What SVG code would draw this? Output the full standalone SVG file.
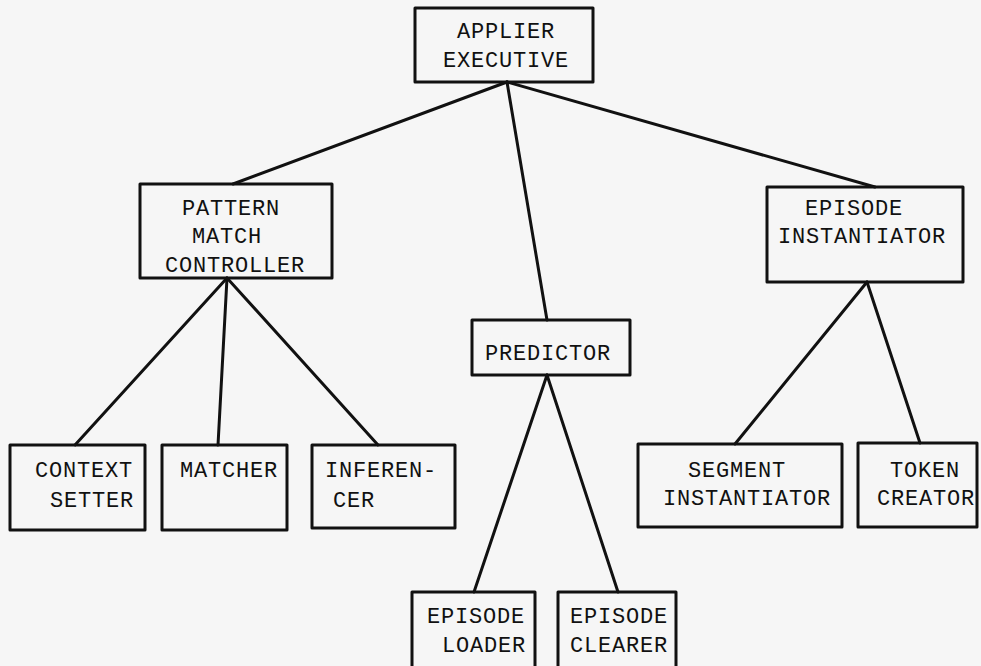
<svg xmlns="http://www.w3.org/2000/svg" width="981" height="666" viewBox="0 0 981 666">
<style>
.box{fill:none;stroke:#111;stroke-width:3;stroke-linejoin:round}
.t{font-family:"Liberation Mono","DejaVu Sans Mono",monospace;font-size:22px;letter-spacing:0.8px;fill:#111}
.c{stroke:#111;stroke-width:3;fill:none;stroke-linecap:round}
</style>
<rect width="981" height="666" fill="#f6f6f6"/>
<g id="connectors">
<line class="c" x1="507" y1="82" x2="233" y2="184"/>
<line class="c" x1="507" y1="82" x2="547" y2="320"/>
<line class="c" x1="507" y1="82" x2="875" y2="187"/>
<line class="c" x1="227" y1="278" x2="75" y2="445"/>
<line class="c" x1="227" y1="278" x2="218" y2="445"/>
<line class="c" x1="227" y1="278" x2="378" y2="445"/>
<line class="c" x1="547" y1="375" x2="474" y2="592"/>
<line class="c" x1="547" y1="375" x2="618" y2="592"/>
<line class="c" x1="867" y1="282" x2="735" y2="444"/>
<line class="c" x1="867" y1="282" x2="920" y2="443"/>
</g>
<g id="applier-executive">
<rect class="box" x="415" y="8" width="178" height="74"/>
<text class="t" x="457" y="38">APPLIER</text>
<text class="t" x="443" y="67">EXECUTIVE</text>
</g>
<g id="pattern-match-controller">
<rect class="box" x="140" y="184" width="192" height="94"/>
<text class="t" x="182" y="215">PATTERN</text>
<text class="t" x="192" y="243">MATCH</text>
<text class="t" x="165" y="272">CONTROLLER</text>
</g>
<g id="episode-instantiator">
<rect class="box" x="767" y="187" width="196" height="95"/>
<text class="t" x="805" y="215">EPISODE</text>
<text class="t" x="778" y="243">INSTANTIATOR</text>
</g>
<g id="predictor">
<rect class="box" x="472" y="320" width="158" height="55"/>
<text class="t" x="485" y="360">PREDICTOR</text>
</g>
<g id="context-setter">
<rect class="box" x="10" y="445" width="135" height="85"/>
<text class="t" x="35" y="477">CONTEXT</text>
<text class="t" x="50" y="507">SETTER</text>
</g>
<g id="matcher">
<rect class="box" x="162" y="445" width="125" height="85"/>
<text class="t" x="180" y="477">MATCHER</text>
</g>
<g id="inferencer">
<rect class="box" x="312" y="445" width="143" height="83"/>
<text class="t" x="325" y="477">INFEREN-</text>
<text class="t" x="333" y="507">CER</text>
</g>
<g id="segment-instantiator">
<rect class="box" x="638" y="444" width="204" height="83"/>
<text class="t" x="688" y="477">SEGMENT</text>
<text class="t" x="663" y="505">INSTANTIATOR</text>
</g>
<g id="token-creator">
<rect class="box" x="858" y="443" width="119" height="84"/>
<text class="t" x="890" y="477">TOKEN</text>
<text class="t" x="877" y="505">CREATOR</text>
</g>
<g id="episode-loader">
<rect class="box" x="412" y="592" width="123" height="80"/>
<text class="t" x="427" y="623">EPISODE</text>
<text class="t" x="442" y="652">LOADER</text>
</g>
<g id="episode-clearer">
<rect class="box" x="558" y="592" width="118" height="80"/>
<text class="t" x="570" y="623">EPISODE</text>
<text class="t" x="570" y="652">CLEARER</text>
</g>
</svg>
